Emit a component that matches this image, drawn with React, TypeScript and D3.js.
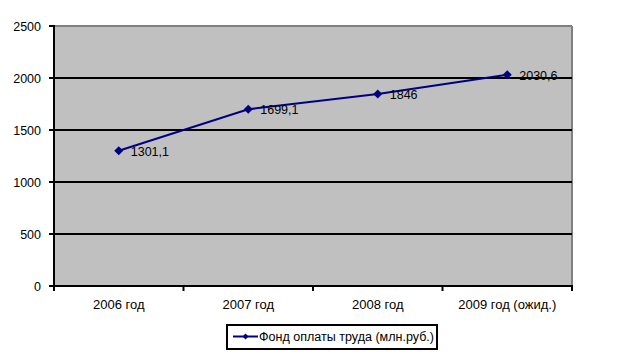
import React from "react";
import * as d3 from "d3";

const categories = ["2006 год", "2007 год", "2008 год", "2009 год (ожид.)"];
const values = [1301.1, 1699.1, 1846, 2030.6];
const valueLabels = ["1301,1", "1699,1", "1846", "2030,6"];
const yTicks = [0, 500, 1000, 1500, 2000, 2500];
const seriesName = "Фонд оплаты труда (млн.руб.)";

export default function App() {
  const W = 617, H = 356;
  const left = 54, right = 572, top = 26, bottom = 286;
  const x = d3.scaleBand<string>().domain(categories).range([left, right]);
  const y = d3.scaleLinear().domain([0, 2500]).range([bottom, top]);
  const line = d3
    .line<number>()
    .x((_, i) => x(categories[i])! + x.bandwidth() / 2)
    .y((d) => y(d));
  const font = "Arial, 'Liberation Sans', sans-serif";
  const diamond = (cx: number, cy: number, r: number) =>
    `M${cx},${cy - r}L${cx + r},${cy}L${cx},${cy + r}L${cx - r},${cy}Z`;
  const bounds = [...categories.map((c) => x(c)!), right];
  return (
    <svg width={W} height={H} style={{ position: "absolute", left: 0, top: 0 }} fontFamily={font}>
      <rect x={0} y={0} width={W} height={H} fill="#fff" />
      <rect x={left} y={top} width={right - left} height={bottom - top} fill="#C0C0C0" />
      {/* top and right border */}
      <line x1={left} x2={right} y1={top} y2={top} stroke="#808080" strokeWidth={2} />
      <line x1={right} x2={right} y1={top} y2={bottom} stroke="#808080" strokeWidth={2} />
      {yTicks.filter((t) => t > 0 && t < 2500).map((t) => (
        <line key={t} x1={left} x2={right} y1={y(t)} y2={y(t)} stroke="#000" strokeWidth={2} />
      ))}
      {/* axes */}
      <line x1={left} x2={left} y1={top - 1} y2={bottom + 1} stroke="#000" strokeWidth={2} />
      <line x1={left - 1} x2={right + 1} y1={bottom} y2={bottom} stroke="#000" strokeWidth={2} />
      {yTicks.map((t) => (
        <g key={t}>
          <line x1={left - 5} x2={left} y1={y(t)} y2={y(t)} stroke="#000" strokeWidth={2} />
          <text x={41} y={y(t) + 4.5} fontSize={12.5} textAnchor="end" fill="#000">
            {t}
          </text>
        </g>
      ))}
      {bounds.map((b, i) => (
        <line key={i} x1={b} x2={b} y1={bottom} y2={bottom + 5} stroke="#000" strokeWidth={2} />
      ))}
      {categories.map((c) => (
        <text key={c} x={x(c)! + x.bandwidth() / 2} y={309} fontSize={13} textAnchor="middle" fill="#000">
          {c}
        </text>
      ))}
      <path d={line(values)!} fill="none" stroke="#000080" strokeWidth={2} />
      {values.map((v, i) => {
        const cx = x(categories[i])! + x.bandwidth() / 2;
        return <path key={i} d={diamond(cx, y(v), 4.5)} fill="#000080" />;
      })}
      {values.map((v, i) => {
        const cx = x(categories[i])! + x.bandwidth() / 2;
        return (
          <text key={i} x={cx + 12} y={y(v) + 5} fontSize={12.5} fill="#000">
            {valueLabels[i]}
          </text>
        );
      })}
      {/* legend */}
      <rect x={227} y={325} width={210} height={24} fill="#fff" stroke="#000" strokeWidth={2} />
      <line x1={233} x2={258} y1={336.5} y2={336.5} stroke="#000080" strokeWidth={2} />
      <path d={diamond(245.5, 336.5, 3)} fill="#000080" />
      <text x={259} y={341} fontSize={12.5} fill="#000" textLength={175} lengthAdjust="spacingAndGlyphs">
        {seriesName}
      </text>
    </svg>
  );
}
